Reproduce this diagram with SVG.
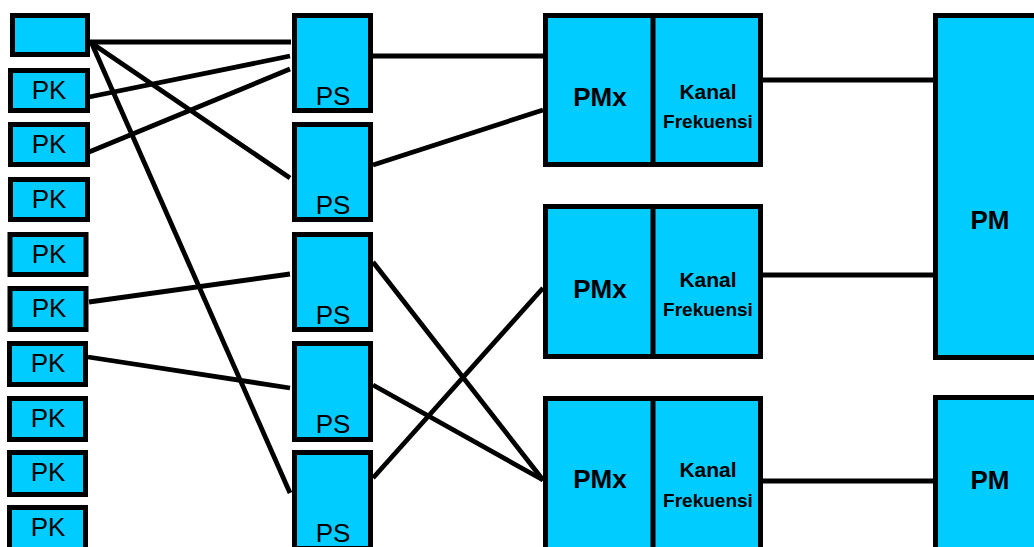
<svg xmlns="http://www.w3.org/2000/svg" width="1034" height="547" viewBox="0 0 1034 547">
<style>
.box{fill:#00CCFF;stroke:#000;stroke-width:5}
.ln{stroke:#000;stroke-width:4.8;fill:none}
.pk{font-family:"Liberation Sans",Arial,sans-serif;font-size:26px;text-anchor:middle;fill:#000}
.b{font-family:"Liberation Sans",Arial,sans-serif;font-weight:bold;text-anchor:middle;fill:#000}
</style>
<rect width="1034" height="547" fill="#fff"/>
<g id="connectors">
<line class="ln" x1="90" y1="42" x2="291" y2="42"/>
<line class="ln" x1="90" y1="42" x2="290" y2="178"/>
<line class="ln" x1="92" y1="44" x2="290" y2="493"/>
<line class="ln" x1="89" y1="97" x2="290" y2="56"/>
<line class="ln" x1="89" y1="152" x2="290" y2="69"/>
<line class="ln" x1="89" y1="302" x2="290" y2="274"/>
<line class="ln" x1="88" y1="357" x2="290" y2="388"/>
<line class="ln" x1="373" y1="56" x2="543" y2="56"/>
<line class="ln" x1="373" y1="165" x2="543" y2="110"/>
<line class="ln" x1="373" y1="262" x2="543" y2="480"/>
<line class="ln" x1="373" y1="385" x2="543" y2="480"/>
<line class="ln" x1="373" y1="478" x2="543" y2="288"/>
<line class="ln" x1="763" y1="80" x2="933" y2="80"/>
<line class="ln" x1="763" y1="275" x2="933" y2="275"/>
<line class="ln" x1="763" y1="481" x2="933" y2="481"/>
</g>
<g id="top-box"><rect class="box" x="12.5" y="15.5" width="75" height="39"/></g>
<g id="pk1"><rect class="box" x="10.5" y="70.5" width="77" height="40"/><text class="pk" x="49" y="99">PK</text></g>
<g id="pk2"><rect class="box" x="10.5" y="124.5" width="77" height="40"/><text class="pk" x="49" y="153">PK</text></g>
<g id="pk3"><rect class="box" x="10.5" y="179.5" width="77" height="40"/><text class="pk" x="49" y="208">PK</text></g>
<g id="pk4"><rect class="box" x="10" y="234.5" width="76" height="40"/><text class="pk" x="49" y="263">PK</text></g>
<g id="pk5"><rect class="box" x="10" y="288.5" width="76" height="41"/><text class="pk" x="49" y="317">PK</text></g>
<g id="pk6"><rect class="box" x="9.5" y="343.5" width="76" height="41"/><text class="pk" x="48" y="372">PK</text></g>
<g id="pk7"><rect class="box" x="9.5" y="398.5" width="76" height="41"/><text class="pk" x="48" y="427">PK</text></g>
<g id="pk8"><rect class="box" x="9.5" y="452.5" width="76" height="42"/><text class="pk" x="48" y="481">PK</text></g>
<g id="pk9"><rect class="box" x="9.5" y="507.5" width="76" height="42"/><text class="pk" x="48" y="536">PK</text></g>
<g id="ps1"><rect class="box" x="294.5" y="15.5" width="76" height="95"/><text class="pk" x="333" y="105">PS</text></g>
<g id="ps2"><rect class="box" x="294.5" y="124.5" width="76" height="95"/><text class="pk" x="333" y="214">PS</text></g>
<g id="ps3"><rect class="box" x="294.5" y="234.5" width="76" height="95"/><text class="pk" x="333" y="324">PS</text></g>
<g id="ps4"><rect class="box" x="294.5" y="343.5" width="76" height="96"/><text class="pk" x="333" y="433">PS</text></g>
<g id="ps5"><rect class="box" x="294.5" y="452.5" width="76" height="96"/><text class="pk" x="333" y="542">PS</text></g>
<g id="pmx1"><rect class="box" x="545.5" y="15.5" width="215" height="149"/><line class="ln" x1="653" y1="15" x2="653" y2="165" style="stroke-width:5"/>
<text class="b" x="600" y="106" font-size="26">PMx</text>
<text class="b" x="708" y="99" font-size="21">Kanal</text>
<text class="b" x="708" y="128" font-size="19">Frekuensi</text></g>
<g id="pmx2"><rect class="box" x="545.5" y="206.5" width="215" height="150"/><line class="ln" x1="653" y1="206" x2="653" y2="357" style="stroke-width:5"/>
<text class="b" x="600" y="298" font-size="26">PMx</text>
<text class="b" x="708" y="287" font-size="21">Kanal</text>
<text class="b" x="708" y="316" font-size="19">Frekuensi</text></g>
<g id="pmx3"><rect class="box" x="545.5" y="398.5" width="215" height="155"/><line class="ln" x1="653" y1="398" x2="653" y2="552" style="stroke-width:5"/>
<text class="b" x="600" y="488" font-size="26">PMx</text>
<text class="b" x="708" y="477" font-size="21">Kanal</text>
<text class="b" x="708" y="507" font-size="19">Frekuensi</text></g>
<g id="pm1"><rect class="box" x="935.5" y="15.5" width="120" height="342"/><text class="b" x="990" y="229" font-size="26">PM</text></g>
<g id="pm2"><rect class="box" x="935.5" y="397.5" width="120" height="200"/><text class="b" x="990" y="489" font-size="26">PM</text></g>
</svg>
